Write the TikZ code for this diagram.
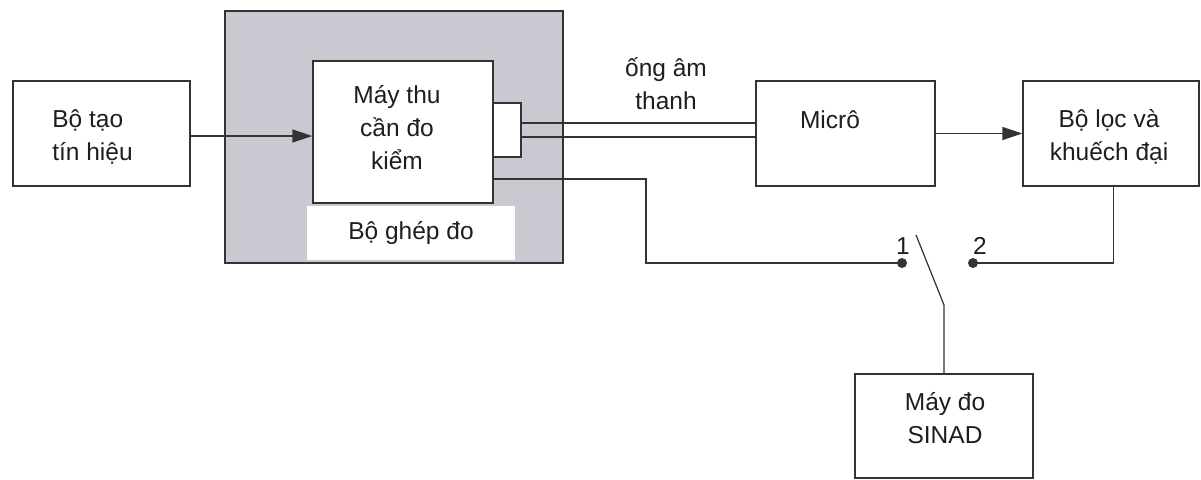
\documentclass[tikz,border=0pt]{standalone}
\usepackage{fontspec}
\setmainfont{Liberation Sans}
\usetikzlibrary{arrows.meta,calc}
\definecolor{ln}{HTML}{333333}
\definecolor{tx}{HTML}{1E1E1E}
\definecolor{gb}{HTML}{C9C9D2}
\begin{document}
\begin{tikzpicture}[x=1pt,y=-1pt,
  every node/.style={font=\fontsize{24.5}{33}\selectfont,text=tx},
  box/.style={draw=ln,line width=1.4pt,fill=white,inner sep=0pt,rectangle},
  wire/.style={draw=ln,line width=1.4pt},
  arr/.style={wire,-{Triangle[length=20pt,width=13pt]}},
  lbl/.style={inner sep=0pt,align=center},
  dotnode/.style={circle,fill=ln,inner sep=0pt,minimum size=10pt}]
\useasboundingbox (0,0) rectangle (1201,479);
\fill[white] (0,0) rectangle (1201,479);
% boxes
\node[box,minimum width=177pt,minimum height=105pt] (gen) at (101.3,133.5) {};
\node[lbl,align=left] (genl) at (92.5,137) {Bộ tạo\\tín hiệu};
\node[box,fill=gb,minimum width=338pt,minimum height=252pt] (coupler) at (394,137) {};
\node[fill=white,inner sep=0pt,minimum width=208pt,minimum height=54pt] (cplab) at (411,233) {Bộ ghép đo};
\node[box,minimum width=180pt,minimum height=142pt] (rx) at (403,132) {};
\node[lbl] (rxl) at (397,128) {Máy thu\\cần đo\\kiểm};
\node[box,minimum width=28pt,minimum height=54pt] (sb) at (507,130) {};
\node[box,minimum width=179pt,minimum height=105pt] (mic) at (845.5,133.5) {};
\node[lbl] (micl) at (830,120) {Micrô};
\node[box,minimum width=176pt,minimum height=105pt] (lpf) at (1111,133.5) {};
\node[lbl] (lpfl) at (1109,137) {Bộ lọc và\\khuếch đại};
\node[box,minimum width=178pt,minimum height=104pt] (sinad) at (944,426) {};
\node[lbl] (sinadl) at (945,418) {Máy đo\\SINAD};
\node[lbl] (tube) at (666,84) {ống âm\\thanh};
% switch
\node[dotnode] (d1) at (902,263) {};
\node[dotnode] (d2) at (973,263) {};
\node[lbl] (n1) at (903,246) {1};
\node[lbl] (n2) at (980,246) {2};
\coordinate (sw) at (916,235);
\coordinate (swk) at (944,305);
\coordinate (bend) at (646,179);
% connectors
\draw[arr] (gen.east |- 0,136) -- (rx.west |- 0,136);
\draw[wire] ([yshift=7pt]sb.east) -- ([yshift=7pt]sb.east -| mic.west);
\draw[wire] ([yshift=-7pt]sb.east) -- ([yshift=-7pt]sb.east -| mic.west);
\draw[arr] (mic.east) -- (lpf.west);
\draw[wire] (rx.east |- bend) -- (bend) -- (bend |- d1) -- (d1.center);
\draw[wire] ([xshift=2.5pt]lpf.south) -- ([xshift=2.5pt]lpf.south |- d2) -- (d2.center);
\draw[wire,line width=1.2pt] (sw) -- (swk) -- (sinad.north);
\end{tikzpicture}
\end{document}
